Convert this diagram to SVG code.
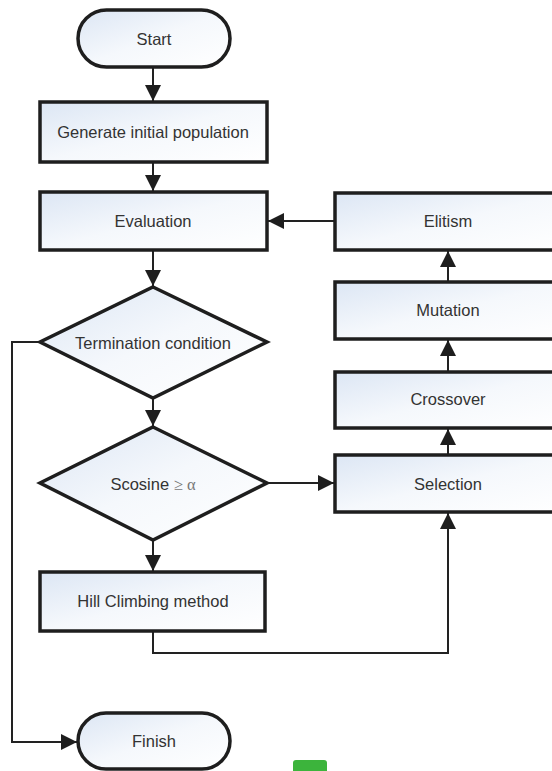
<svg xmlns="http://www.w3.org/2000/svg" width="552" height="771" viewBox="0 0 552 771">
<style>
.box{fill:url(#g);stroke:#1e1e1e;stroke-width:3.5;stroke-linejoin:miter}
.t{font-family:"Liberation Sans",Arial,sans-serif;font-size:16.5px;fill:#333;text-anchor:middle;dominant-baseline:central}
.c{fill:none;stroke:#222;stroke-width:2}
</style>
<defs>
<linearGradient id="g" x1="0" y1="0" x2="1" y2="1">
<stop offset="0" stop-color="#dce6f4"/>
<stop offset="0.5" stop-color="#f5f8fc"/>
<stop offset="1" stop-color="#ffffff"/>
</linearGradient>
<marker id="b" viewBox="0 0 10 10" refX="10" refY="5" markerWidth="8" markerHeight="8" orient="auto">
<path d="M0,0 L10,5 L0,10 z" fill="#1e1e1e"/>
</marker>
</defs>
<g id="connectors">
<path class="c" d="M153,67 V101" marker-end="url(#b)"/>
<path class="c" d="M153,162 V191" marker-end="url(#b)"/>
<path class="c" d="M153,250 V286" marker-end="url(#b)"/>
<path class="c" d="M153,398 V426" marker-end="url(#b)"/>
<path class="c" d="M153,540 V571" marker-end="url(#b)"/>
<path class="c" d="M267,483 H334" marker-end="url(#b)"/>
<path class="c" d="M335,221 H268" marker-end="url(#b)"/>
<path class="c" d="M448,455 V429" marker-end="url(#b)"/>
<path class="c" d="M448,372 V340" marker-end="url(#b)"/>
<path class="c" d="M448,282 V251" marker-end="url(#b)"/>
<path class="c" d="M153,631 V653 H448 V513" marker-end="url(#b)"/>
<path class="c" d="M40,342 H12 V742 H77" marker-end="url(#b)"/>
</g>
<g id="start"><rect class="box" x="78" y="10" width="152" height="57" rx="28.5"/><text class="t" x="154" y="39">Start</text></g>
<g id="generate"><rect class="box" x="40" y="102" width="227" height="60"/><text class="t" x="153" y="132">Generate initial population</text></g>
<g id="evaluation"><rect class="box" x="40" y="192" width="227" height="58"/><text class="t" x="153" y="221">Evaluation</text></g>
<g id="termination"><polygon class="box" points="153,287 267,342 153,398 40,342"/><text class="t" x="153" y="343">Termination condition</text></g>
<g id="scosine"><polygon class="box" points="153,427 267,483 153,540 40,483"/><text class="t" x="153" y="484">Scosine <tspan font-family="'Liberation Serif',serif" fill="#777">≥ α</tspan></text></g>
<g id="hill"><rect class="box" x="40" y="572" width="225" height="59"/><text class="t" x="153" y="601">Hill Climbing method</text></g>
<g id="finish"><rect class="box" x="78" y="713" width="152" height="56" rx="28"/><text class="t" x="154" y="741">Finish</text></g>
<g id="elitism"><rect class="box" x="335" y="193" width="230" height="57"/><text class="t" x="448" y="221">Elitism</text></g>
<g id="mutation"><rect class="box" x="335" y="282" width="230" height="57"/><text class="t" x="448" y="310">Mutation</text></g>
<g id="crossover"><rect class="box" x="335" y="372" width="230" height="56"/><text class="t" x="448" y="399">Crossover</text></g>
<g id="selection"><rect class="box" x="335" y="455" width="230" height="57"/><text class="t" x="448" y="484">Selection</text></g>
<rect x="293" y="760" width="34" height="16" rx="3" fill="#3cb43c"/>
</svg>
